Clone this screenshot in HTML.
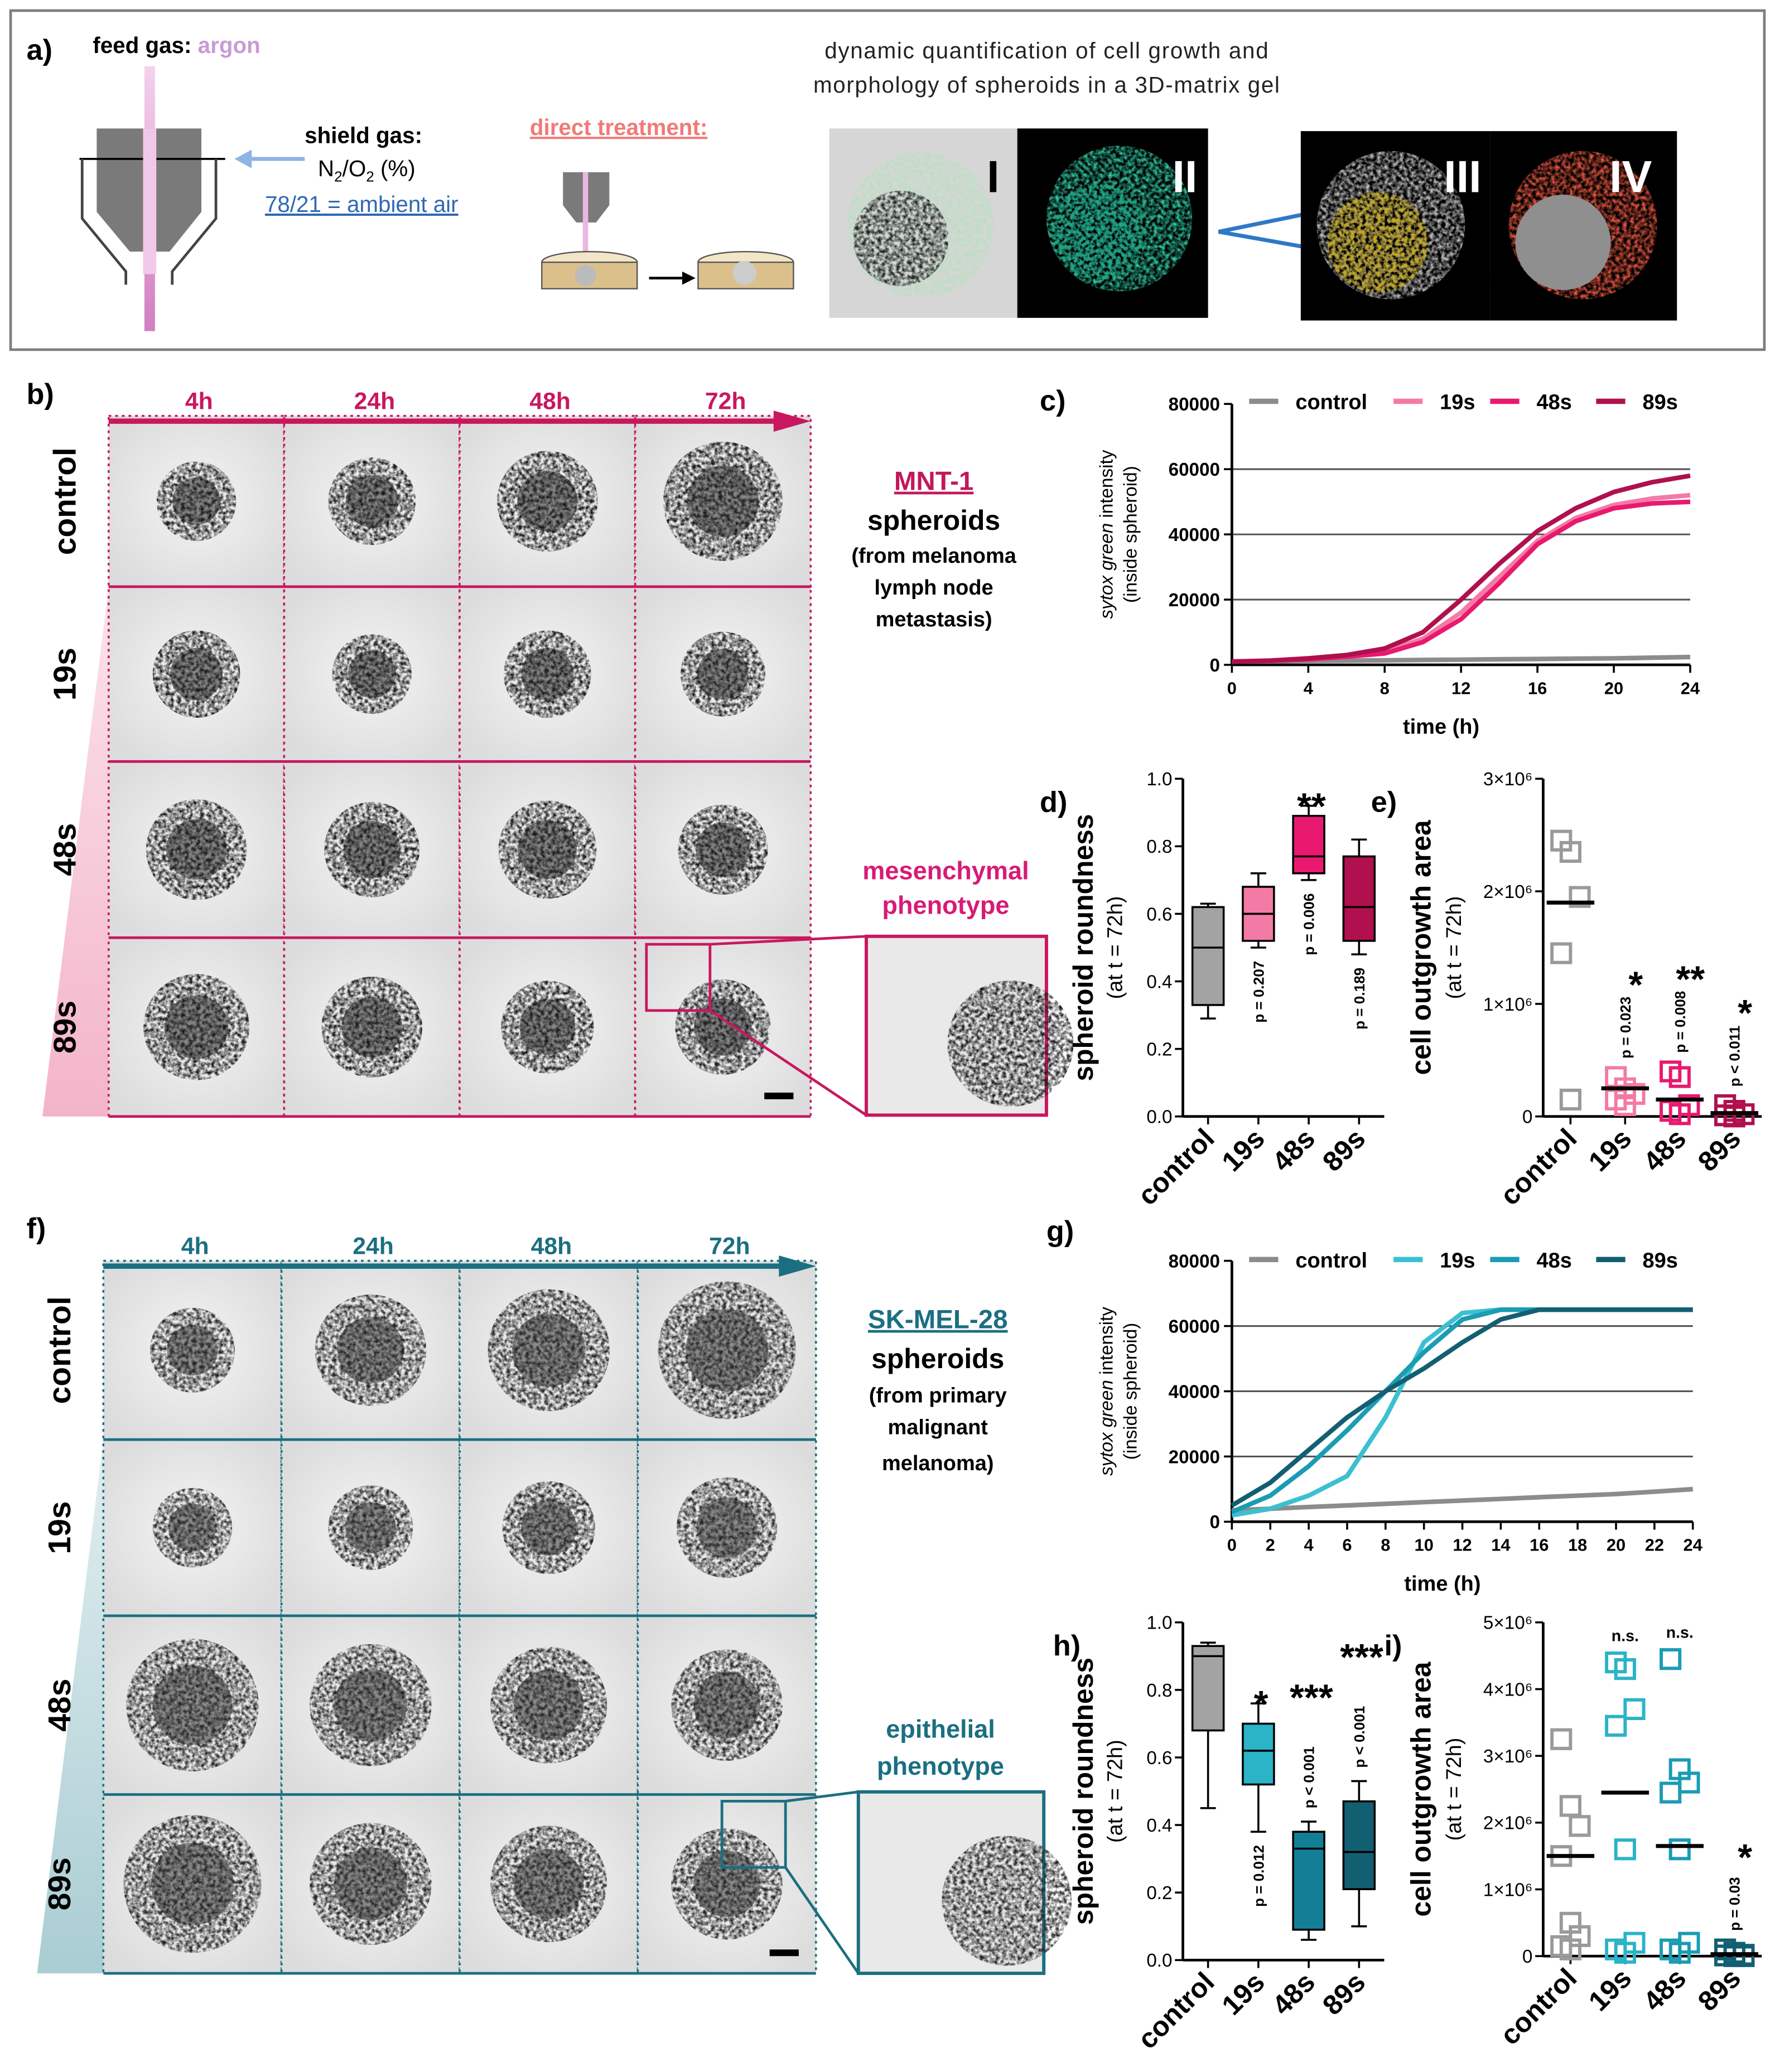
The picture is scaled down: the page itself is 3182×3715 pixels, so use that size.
<!DOCTYPE html>
<html><head><meta charset="utf-8"><style>
html,body{margin:0;padding:0;background:#fff}
svg{display:block;font-family:"Liberation Sans",Arial,sans-serif}
</style></head><body>
<svg id="fig" width="3182" height="3715" viewBox="0 0 1340 1564.5" xmlns="http://www.w3.org/2000/svg">
<defs>
<filter id="tex" x="-20%" y="-20%" width="140%" height="140%">
<feTurbulence type="fractalNoise" baseFrequency="0.35" numOctaves="2" seed="3" result="n"/>
<feColorMatrix in="n" type="matrix" values="0 0 0 0 0  0 0 0 0 0  0 0 0 0 0  0 0 0 -2.2 1.5" result="m"/>
<feComposite in="SourceGraphic" in2="m" operator="in"/>
</filter>
<radialGradient id="bg" cx="50%" cy="50%" r="60%"><stop offset="0" stop-color="#f4f4f4"/><stop offset="1" stop-color="#dcdcdc"/></radialGradient>
<linearGradient id="triP" x1="0" y1="0" x2="0" y2="1"><stop offset="0" stop-color="#fbe3ec"/><stop offset="1" stop-color="#f3b4c9"/></linearGradient>
<linearGradient id="triT" x1="0" y1="0" x2="0" y2="1"><stop offset="0" stop-color="#e2eef0"/><stop offset="1" stop-color="#a9cdd3"/></linearGradient>
<linearGradient id="beam" x1="0" y1="0" x2="0" y2="1"><stop offset="0" stop-color="#f1c6e8"/><stop offset="1" stop-color="#c65fb0"/></linearGradient>
</defs>

<g>
<rect x="8" y="8" width="1324" height="256" fill="#fff" stroke="#7f7f7f" stroke-width="2"/>
<text x="20" y="45" font-size="22" font-weight="bold">a)</text>
<text x="70" y="40" font-size="17" font-weight="bold">feed gas: <tspan fill="#c99bd6">argon</tspan></text>
<rect x="109" y="50" width="8" height="200" fill="url(#beam)" opacity="0.8"/>
<polygon points="73,97 152,97 152,160 128,190 98,190 73,160" fill="#7a7a7a"/>
<polyline points="60,120 170,120" stroke="#000" fill="none" stroke-width="1.5"/>
<polyline points="62,120 62,165 95,205 95,215" stroke="#444" fill="none" stroke-width="2"/>
<polyline points="163,120 163,165 130,205 130,215" stroke="#444" fill="none" stroke-width="2"/>
<rect x="108" y="97" width="10" height="110" fill="#f2c8e8"/>
<line x1="230" y1="120" x2="180" y2="120" stroke="#8fb4e3" stroke-width="3"/>
<polygon points="177,120 190,113 190,127" fill="#8fb4e3"/>
<text x="230" y="108" font-size="17" font-weight="bold">shield gas:</text>
<text x="240" y="133" font-size="17">N<tspan font-size="11" dy="4">2</tspan><tspan dy="-4">/O</tspan><tspan font-size="11" dy="4">2</tspan><tspan dy="-4"> (%)</tspan></text>
<text x="200" y="160" font-size="17" fill="#2f68b5" text-decoration="underline">78/21 = ambient air</text>
<text x="400" y="102" font-size="17" fill="#f07a78" text-decoration="underline" font-weight="bold">direct treatment:</text>
<polygon points="425,130 460,130 460,155 450,168 435,168 425,155" fill="#7a7a7a"/>
<rect x="440" y="130" width="4" height="60" fill="#e8b8e0"/>
<ellipse cx="445" cy="198" rx="36" ry="8" fill="#f3e6c8" stroke="#555"/>
<rect x="409" y="198" width="72" height="20" fill="#dcc08c" stroke="#555"/>
<circle cx="442" cy="208" r="8" fill="#bbb"/>
<line x1="490" y1="210" x2="520" y2="210" stroke="#000" stroke-width="2"/>
<polygon points="525,210 515,205 515,215"/>
<ellipse cx="563" cy="198" rx="36" ry="8" fill="#f3e6c8" stroke="#555"/>
<rect x="527" y="198" width="72" height="20" fill="#dcc08c" stroke="#555"/>
<circle cx="562" cy="206" r="9" fill="#ccc"/>
<text x="790" y="44" font-size="17" text-anchor="middle" fill="#222" textLength="335">dynamic quantification  of cell growth and</text>
<text x="790" y="70" font-size="17" text-anchor="middle" fill="#222" textLength="352">morphology of spheroids in a 3D-matrix gel</text>
<rect x="626" y="97" width="142" height="143" fill="#d6d6d6"/>
<circle cx="695" cy="170" r="55" fill="#b8e0bf" filter="url(#tex)"/>
<circle cx="680" cy="180" r="36" fill="#222" filter="url(#tex)"/>
<text x="745" y="145" font-size="34" font-weight="bold">I</text>
<rect x="768" y="97" width="144" height="143" fill="#000"/>
<circle cx="845" cy="165" r="55" fill="#2fc7a3" filter="url(#tex)"/>
<circle cx="830" cy="175" r="36" fill="#1fa584" filter="url(#tex)"/>
<text x="885" y="145" font-size="34" font-weight="bold" fill="#fff">II</text>
<polyline points="1018,155 920,175 1135,213" stroke="#2f78c8" stroke-width="3" fill="none"/>
<rect x="982" y="99" width="143" height="143" fill="#000"/>
<circle cx="1050" cy="170" r="56" fill="#bbb" filter="url(#tex)"/>
<circle cx="1040" cy="183" r="38" fill="#c9a90e" filter="url(#tex)"/>
<text x="1090" y="145" font-size="34" font-weight="bold" fill="#fff">III</text>
<rect x="1125" y="99" width="141" height="143" fill="#000"/>
<circle cx="1195" cy="170" r="56" fill="#e2553f" filter="url(#tex)"/>
<circle cx="1180" cy="183" r="36" fill="#8f8f8f"/>
<text x="1215" y="145" font-size="34" font-weight="bold" fill="#fff">IV</text>
</g>

<g id="grids"></g>
<g id="charts"></g>

<text x="20" y="305" font-size="22" font-weight="bold">b)</text>
<text x="785" y="310" font-size="22" font-weight="bold">c)</text>
<text x="785" y="613" font-size="22" font-weight="bold">d)</text>
<text x="1035" y="613" font-size="22" font-weight="bold">e)</text>
<text x="20" y="935" font-size="22" font-weight="bold">f)</text>
<text x="790" y="937" font-size="22" font-weight="bold">g)</text>
<text x="795" y="1250" font-size="22" font-weight="bold">h)</text>
<text x="1045" y="1250" font-size="22" font-weight="bold">i)</text>

<g font-weight="bold" text-anchor="middle">
<text x="705" y="370" font-size="20" fill="#c2185b" text-decoration="underline">MNT-1</text>
<text x="705" y="400" font-size="21">spheroids</text>
<text x="705" y="425" font-size="16">(from melanoma</text>
<text x="705" y="449" font-size="16">lymph node</text>
<text x="705" y="473" font-size="16">metastasis)</text>
<text x="714" y="664" font-size="19" fill="#d81b75">mesenchymal</text>
<text x="714" y="690" font-size="19" fill="#d81b75">phenotype</text>
</g>
<g font-weight="bold" text-anchor="middle">
<text x="708" y="1003" font-size="20" fill="#1b6f80" text-decoration="underline">SK-MEL-28</text>
<text x="708" y="1033" font-size="21">spheroids</text>
<text x="708" y="1059" font-size="16">(from primary</text>
<text x="708" y="1083" font-size="16">malignant</text>
<text x="708" y="1110" font-size="16">melanoma)</text>
<text x="710" y="1312" font-size="19" fill="#1b6f80">epithelial</text>
<text x="710" y="1340" font-size="19" fill="#1b6f80">phenotype</text>
</g>
</svg>

<script>
var NS="http://www.w3.org/2000/svg";
function mk(parent,tag,attrs,txt){var e=document.createElementNS(NS,tag);for(var k in attrs)e.setAttribute(k,attrs[k]);if(txt!==undefined)e.textContent=txt;parent.appendChild(e);return e;}

var timeLabels=["4h","24h","48h","72h"];
var rowLabels=["control","19s","48s","89s"];
var blobB=[[30,33,38,45],[33,30,33,32],[38,36,37,34],[40,38,35,36]];
var blobF=[[32,42,46,52],[30,32,35,38],[50,46,44,42],[52,46,44,42]];
function grid(x0,x1,ys,col,tri,blob,dark,zoom){
  var G=document.getElementById("grids");
  var g=mk(G,"g",{});
  
  
  var cw=(x1-x0)/4;
  mk(g,"polygon",{points:(x0-50)+","+(ys[4])+" "+x0+","+ys[1]+" "+x0+","+ys[4],fill:tri});
  for(var r=0;r!==4;r++){
    for(var c=0;c!==4;c++){
      var x=x0+c*cw,y=ys[r],h=ys[r+1]-ys[r];
      var cell=mk(g,"g",{});
      
      
      mk(cell,"rect",{x:x,y:y,width:cw,height:h,fill:"url(#bg)"});
      var R=blob[r][c];
      mk(cell,"circle",{cx:x+cw/2,cy:y+h/2,r:R,fill:dark,filter:"url(#tex)"});
      mk(cell,"circle",{cx:x+cw/2,cy:y+h/2,r:R*0.6,fill:dark,opacity:0.5});
      mk(cell,"rect",{x:x,y:y,width:cw,height:h,fill:"none",stroke:col,"stroke-width":1.5,"stroke-dasharray":"2,3"});
    }
    var lb=mk(g,"text",{x:0,y:0,"font-size":24,"font-weight":"bold","text-anchor":"middle",transform:"translate("+(x0-25)+","+((ys[r]+ys[r+1])/2)+") rotate(-90)"},rowLabels[r]);
    
    
    if(r>0) mk(g,"line",{x1:x0,x2:x1,y1:ys[r],y2:ys[r],stroke:col,"stroke-width":2});
  }
  mk(g,"line",{x1:x0,x2:x1,y1:ys[4],y2:ys[4],stroke:col,"stroke-width":2});
  mk(g,"line",{x1:x0,x2:x1-10,y1:ys[0]+4,y2:ys[0]+4,stroke:col,"stroke-width":4});
  mk(g,"polygon",{points:(x1)+","+(ys[0]+4)+" "+(x1-28)+","+(ys[0]-4)+" "+(x1-28)+","+(ys[0]+12),fill:col});
  for(var c=0;c!==4;c++){
    var t=mk(g,"text",{x:x0+c*cw+cw/2+2,y:ys[0]-5,"font-size":18,"font-weight":"bold",fill:col,"text-anchor":"middle"},timeLabels[c]);
    
    
  }
  mk(g,"rect",{x:zoom[0],y:zoom[1],width:zoom[2],height:zoom[3],fill:"none",stroke:col,"stroke-width":2});
  mk(g,"rect",{x:zoom[4],y:zoom[5],width:zoom[6],height:zoom[7],fill:"#e9e9e9",stroke:col,"stroke-width":2.5});
  mk(g,"circle",{cx:zoom[4]+zoom[6]*0.8,cy:zoom[5]+zoom[7]*0.6,r:zoom[6]*0.35,fill:dark,filter:"url(#tex)"});
  mk(g,"line",{x1:zoom[0]+zoom[2],y1:zoom[1],x2:zoom[4],y2:zoom[5],stroke:col,"stroke-width":2});
  mk(g,"line",{x1:zoom[0]+zoom[2],y1:zoom[1]+zoom[3],x2:zoom[4],y2:zoom[5]+zoom[7],stroke:col,"stroke-width":2});
  mk(g,"rect",{x:x1-35,y:ys[4]-18,width:22,height:5,fill:"#000"});
}
grid(82,612,[314,443,575,708,843],"#c9175f","url(#triP)",blobB,"#1a1a1a",[488,713,48,50,654,707,136,135]);
grid(78,616,[952,1087,1220,1355,1490],"#1b6f80","url(#triT)",blobF,"#262626",[545,1360,48,50,648,1353,140,137]);

var C=document.getElementById("charts");
var hoursC=[0,2,4,6,8,10,12,14,16,18,20,22,24];
var cControl=[1000,1100,1200,1300,1400,1500,1600,1700,1800,1900,2000,2200,2400];
var c19s=[1000,1200,1800,2500,4000,8000,16000,27000,38000,45000,49000,51000,52000];
var c48s=[1000,1200,1700,2500,3500,7000,14000,25000,37000,44000,48000,49500,50000];
var c89s=[1000,1300,2000,3000,5000,10000,20000,31000,41000,48000,53000,56000,58000];
var cXTicks=[0,4,8,12,16,20,24];
var yTicks=[0,20000,40000,60000,80000];
var gXTicks=[0,2,4,6,8,10,12,14,16,18,20,22,24];
var hoursG=[0,2,4,6,8,10,12,14,16,18,20,22,24];
var gControl=[3500,4000,4500,5000,5500,6000,6500,7000,7500,8000,8500,9200,10000];
var g19s=[2000,4000,8000,14000,32000,55000,64000,65000,65000,65000,65000,65000,65000];
var g48s=[3000,8000,17000,28000,40000,52000,62000,65000,65000,65000,65000,65000,65000];
var g89s=[5000,12000,22000,32000,40000,47000,55000,62000,65000,65000,65000,65000,65000];

function lineChart(name,x0,y0,w,h,xmax,ymax,xTicks,xs,series,cols,labels,legY){
  var g=mk(C,"g",{});
  
  
  function X(v){return x0+v/xmax*w;}
  function Y(v){return y0+h-v/ymax*h;}
  yTicks.forEach(function(t){
    if(t>0 && ymax>t) mk(g,"line",{x1:x0,x2:x0+w,y1:Y(t),y2:Y(t),stroke:"#555","stroke-width":1.3});
    mk(g,"line",{x1:x0-6,x2:x0,y1:Y(t),y2:Y(t),stroke:"#000","stroke-width":1.5});
    var tl=mk(g,"text",{x:x0-9,y:Y(t)+5,"font-size":14,"font-weight":"bold","text-anchor":"end"},t);
    
    
  });
  xTicks.forEach(function(t){
    mk(g,"line",{x1:X(t),x2:X(t),y1:y0+h,y2:y0+h+6,stroke:"#000","stroke-width":1.5});
    var tl=mk(g,"text",{x:X(t),y:y0+h+22,"font-size":13,"font-weight":"bold","text-anchor":"middle"},t);
    
    
  });
  mk(g,"line",{x1:x0,x2:x0,y1:y0,y2:y0+h,stroke:"#000","stroke-width":2});
  mk(g,"line",{x1:x0,x2:x0+w,y1:y0+h,y2:y0+h,stroke:"#000","stroke-width":2});
  series.forEach(function(s,i){
    var d="";s.forEach(function(v,j){d+=(j?"L":"M")+X(xs[j]).toFixed(1)+","+Y(v).toFixed(1);});
    var p=mk(g,"path",{d:d,fill:"none",stroke:cols[i],"stroke-width":3.5,"stroke-linejoin":"round"});
    
    
  });
  var lx=[x0+13,x0+122,x0+195,x0+275];
  labels.forEach(function(l,i){
    var le=mk(g,"line",{x1:lx[i],x2:lx[i]+22,y1:legY,y2:legY,stroke:cols[i],"stroke-width":4});
    
    
    mk(g,"text",{x:lx[i]+35,y:legY+6,"font-size":16,"font-weight":"bold"},l);
  });
  mk(g,"text",{x:x0+w/2-15,y:y0+h+52,"font-size":16,"font-weight":"bold","text-anchor":"middle"},"time (h)");
  var t1=mk(g,"text",{x:0,y:0,"font-size":14,"text-anchor":"middle",transform:"translate("+(x0-90)+","+(y0+h/2)+") rotate(-90)"});
  mk(t1,"tspan",{"font-style":"italic"},"sytox green");
  mk(t1,"tspan",{}," intensity");
  mk(g,"text",{x:0,y:0,"font-size":14,"text-anchor":"middle",transform:"translate("+(x0-72)+","+(y0+h/2)+") rotate(-90)"},"(inside spheroid)");
}
lineChart("line-chart-c",930,305,346,197,24,80000,cXTicks,hoursC,[cControl,c19s,c48s,c89s],["#8c8c8c","#f47aa6","#e8196f","#b0104e"],["control","19s","48s","89s"],303);
lineChart("line-chart-g",930,952,348,197,24,80000,gXTicks,hoursG,[gControl,g19s,g48s,g89s],["#8c8c8c","#3cc0d0","#1a9cb3","#135f72"],["control","19s","48s","89s"],951);

var groups=["control","19s","48s","89s"];
var dMin=[0.29,0.50,0.70,0.48],dQ1=[0.33,0.52,0.72,0.52],dMed=[0.50,0.60,0.77,0.62],dQ3=[0.62,0.68,0.89,0.77],dMax=[0.63,0.72,0.92,0.82];
var dP=["","p = 0.207","p = 0.006","p = 0.189"];
var dPAbove=[false,false,false,false];
var dStars=["","","**",""];
var hMin=[0.45,0.38,0.06,0.10],hQ1=[0.68,0.52,0.09,0.21],hMed=[0.90,0.62,0.33,0.32],hQ3=[0.93,0.70,0.38,0.47],hMax=[0.94,0.76,0.41,0.53];
var hP=["","p = 0.012","p < 0.001","p < 0.001"];
var hPAbove=[false,false,true,true];
var hStars=["","*","***","***"];
var boxTicks=[0,0.2,0.4,0.6,0.8,1.0];

function axisCommon(g,x0,y0,w,h,ticks,fmtTicks,maxv,ylab,lo1,lo2){
  function Y(v){return y0+h-v/maxv*h;}
  mk(g,"line",{x1:x0,x2:x0,y1:y0,y2:y0+h,stroke:"#000","stroke-width":2});
  mk(g,"line",{x1:x0,x2:x0+w,y1:y0+h,y2:y0+h,stroke:"#000","stroke-width":2});
  ticks.forEach(function(t,i){
    mk(g,"line",{x1:x0-6,x2:x0,y1:Y(t),y2:Y(t),stroke:"#000","stroke-width":1.5});
    var tl=mk(g,"text",{x:x0-8,y:Y(t)+5,"font-size":14,"text-anchor":"end"},fmtTicks[i]);
    
    
  });
  var step=w/4;
  groups.forEach(function(gn,i){
    var cx=x0+step*(i+0.5);
    mk(g,"line",{x1:cx,x2:cx,y1:y0+h,y2:y0+h+6,stroke:"#000","stroke-width":1.5});
    var tl=mk(g,"text",{x:0,y:0,"font-size":21,"font-weight":"bold","text-anchor":"end",transform:"translate("+(cx+6)+","+(y0+h+18)+") rotate(-45)"},gn);
    
    
  });
  mk(g,"text",{x:0,y:0,"font-size":21,"font-weight":"bold","text-anchor":"middle",transform:"translate("+(x0-lo1)+","+(y0+h/2)+") rotate(-90)"},ylab);
  mk(g,"text",{x:0,y:0,"font-size":16,"text-anchor":"middle",transform:"translate("+(x0-lo2)+","+(y0+h/2)+") rotate(-90)"},"(at t = 72h)");
  return Y;
}
function boxPlot(name,x0,y0,w,h,mn,q1,md,q3,mx,cols,pv,pAbove,stars){
  var g=mk(C,"g",{});
  
  
  var Y=axisCommon(g,x0,y0,w,h,boxTicks,["0.0","0.2","0.4","0.6","0.8","1.0"],1,"spheroid roundness",68,46);
  var step=w/4,bw=step*0.62;
  groups.forEach(function(gn,i){
    var cx=x0+step*(i+0.5);
    var b=mk(g,"g",{});
    
    
    mk(b,"line",{x1:cx,x2:cx,y1:Y(mn[i]),y2:Y(mx[i]),stroke:"#000","stroke-width":1.5});
    mk(b,"line",{x1:cx-bw/4,x2:cx+bw/4,y1:Y(mn[i]),y2:Y(mn[i]),stroke:"#000","stroke-width":1.5});
    mk(b,"line",{x1:cx-bw/4,x2:cx+bw/4,y1:Y(mx[i]),y2:Y(mx[i]),stroke:"#000","stroke-width":1.5});
    mk(b,"rect",{x:cx-bw/2,y:Y(q3[i]),width:bw,height:Y(q1[i])-Y(q3[i]),fill:cols[i],stroke:"#000","stroke-width":1.5});
    mk(b,"line",{x1:cx-bw/2,x2:cx+bw/2,y1:Y(md[i]),y2:Y(md[i]),stroke:"#000","stroke-width":1.5});
    var starY=Y(mx[i])-4;
    if(pv[i]){
      if(pAbove[i]){
        var pb=Y(mx[i])-10;
        mk(b,"text",{x:0,y:0,"font-size":11,"font-weight":"bold","text-anchor":"start",transform:"translate("+(cx+4)+","+pb+") rotate(-90)"},pv[i]);
        starY=pb-88;
      } else {
        var py=Y(mn[i])+10;
        mk(b,"text",{x:0,y:0,"font-size":11,"font-weight":"bold","text-anchor":"end",transform:"translate("+(cx+4)+","+py+") rotate(-90)"},pv[i]);
      }
    }
    if(stars[i]){
      mk(b,"text",{x:cx+2,y:starY+14,"font-size":28,"font-weight":"bold","text-anchor":"middle"},stars[i]);
    }
  });
}
boxPlot("box-plot-d",893,588,152,255,dMin,dQ1,dMed,dQ3,dMax,["#a3a3a3","#f47aa6","#e8196f","#b0104e"],dP,dPAbove,dStars);
boxPlot("box-plot-h",893,1225,152,255,hMin,hQ1,hMed,hQ3,hMax,["#a3a3a3","#2bb3c7","#137f96","#135f72"],hP,hPAbove,hStars);

var eControl=[2.45,2.35,1.95,1.45,0.15],e19s=[0.35,0.25,0.2,0.15,0.1],e48s=[0.4,0.35,0.1,0.05,0.02],e89s=[0.1,0.05,0.02,0.01,0.0];
var eMed=[1.9,0.25,0.15,0.03];
var eTicks=[0,1,2,3];
var eP=["","p = 0.023","p = 0.008","p < 0.011"];
var eStars=["","*","**","*"];
var iControl=[3.25,2.25,1.95,1.5,0.5,0.3,0.15,0.1],i19s=[4.4,4.3,3.7,3.45,1.6,0.2,0.1,0.05],i48s=[4.45,2.8,2.6,2.45,1.6,0.2,0.1,0.05],i89s=[0.1,0.05,0.02,0.01,0,0];
var iMed=[1.5,2.45,1.65,0.03];
var iTicks=[0,1,2,3,4,5];
var iP=["","","","p = 0.03"];
var iStars=["","n.s.","n.s.","*"];
function scatter(name,x0,y0,w,h,maxv,ticks,data,med,cols,pv,stars){
  var g=mk(C,"g",{});
  
  
  var labs=ticks.map(function(t){return t==0?"0":t+"×10⁶";});
  var Y=axisCommon(g,x0,y0,w,h,ticks,labs,maxv,"cell outgrowth area",85,62);
  var step=w/4;
  data.forEach(function(arr,i){
    var cx=x0+step*(i+0.5);
    arr.forEach(function(v,j){
      var off=((j%3)-1)*7;
      var s=mk(g,"rect",{x:cx+off-7,y:Y(v)-7,width:14,height:14,fill:"none",stroke:cols[i],"stroke-width":2.5});
      
      
    });
    var m=mk(g,"line",{x1:cx-18,x2:cx+18,y1:Y(med[i]),y2:Y(med[i]),stroke:"#000","stroke-width":3});
    
    
    var top=Math.max.apply(null,arr);
    if(pv[i]) mk(g,"text",{x:0,y:0,"font-size":11,"font-weight":"bold","text-anchor":"start",transform:"translate("+(cx+4)+","+(Y(top)-14)+") rotate(-90)"},pv[i]);
    if(stars[i]){
      var sz=stars[i]=="n.s."?12:28;
      var sy=stars[i]=="n.s."?Y(top)-16:Y(top)-(pv[i]?70:20)+10;
      mk(g,"text",{x:cx+(stars[i]=="n.s."?0:8),y:sy,"font-size":sz,"font-weight":"bold","text-anchor":"middle"},stars[i]);
    }
  });
}
scatter("scatter-plot-e",1165,588,165,255,3,eTicks,[eControl,e19s,e48s,e89s],eMed,["#9a9a9a","#f47aa6","#e8196f","#b0104e"],eP,eStars);
scatter("scatter-plot-i",1165,1225,165,252,5,iTicks,[iControl,i19s,i48s,i89s],iMed,["#9a9a9a","#2bb3c7","#1a9cb3","#135f72"],iP,iStars);
</script>
</body></html>
